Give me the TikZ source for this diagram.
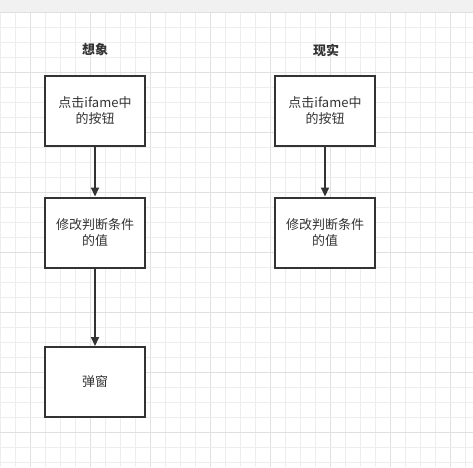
\documentclass[tikz,border=0pt]{standalone}
\usepackage{fontspec}
\setmainfont{Noto Sans CJK SC}
\usetikzlibrary{arrows.meta}
\definecolor{ink}{HTML}{333333}
\definecolor{gridminor}{HTML}{EDEDED}
\definecolor{gridmajor}{HTML}{E0E0E0}
\definecolor{topbar}{HTML}{F1F1F1}
\begin{document}
\begin{tikzpicture}[x=1pt,y=-1pt,
  stepbox/.style={draw=ink, line width=2pt, fill=white, minimum width=100pt, minimum height=70pt, align=center, font=\fontsize{13}{15.5}\selectfont, text=ink, inner sep=0pt},
  titlenode/.style={font=\fontsize{13}{15.5}\selectfont\bfseries, text=ink},
  conn/.style={draw=ink, line width=2pt, -{Triangle[length=9pt,width=8pt]}},
  minorline/.style={draw=gridminor, line width=0.8pt},
  majorline/.style={draw=gridmajor, line width=1pt}]
\useasboundingbox (0,0) rectangle (473,467);
\fill[white] (0,0) rectangle (473,467);
\fill[topbar] (0,0) rectangle (473,12);
% grid
\foreach \k in {0,...,31}{
  \pgfmathtruncatemacro{\xx}{15*\k}
  \pgfmathtruncatemacro{\mm}{mod(\k,4)}
  \ifnum\mm=2
    \draw[majorline] (\xx,12) -- (\xx,467);
  \else
    \draw[minorline] (\xx,12) -- (\xx,467);
  \fi
}
\foreach \k in {0,...,30}{
  \pgfmathtruncatemacro{\yy}{12+15*\k}
  \pgfmathtruncatemacro{\mm}{mod(\k,4)}
  \ifnum\mm=0
    \draw[majorline] (0,\yy) -- (473,\yy);
  \else
    \draw[minorline] (0,\yy) -- (473,\yy);
  \fi
}
% titles
\node[titlenode] (t1) at (95,50) {想象};
\node[titlenode] (t2) at (326,50) {现实};
% left column
\node[stepbox] (a1) at (95,110.5) {点击ifame中\\的按钮};
\node[stepbox] (a2) at (95,232.5) {修改判断条件\\的值};
\node[stepbox] (a3) at (95,382) {弹窗};
% right column
\node[stepbox] (b1) at (325,110.5) {点击ifame中\\的按钮};
\node[stepbox] (b2) at (325,232.5) {修改判断条件\\的值};
% connectors
\draw[conn] (a1.south) -- (a2.north);
\draw[conn] (a2.south) -- (a3.north);
\draw[conn] (b1.south) -- (b2.north);
\end{tikzpicture}
\end{document}
